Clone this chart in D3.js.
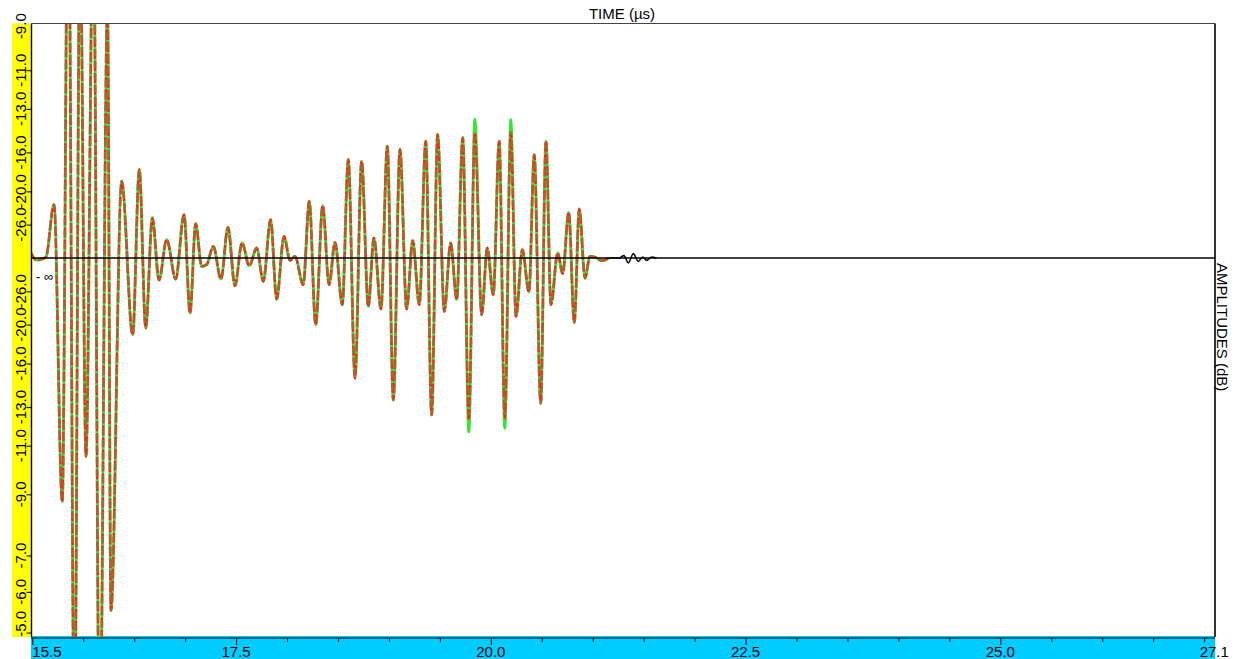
<!DOCTYPE html>
<html>
<head>
<meta charset="utf-8">
<script src="https://cdn.jsdelivr.net/npm/d3@7"></script>
<style>
  html, body { margin: 0; padding: 0; background: #fff; }
  svg { display: block; font-family: "Liberation Sans", Arial, sans-serif; }
</style>
</head>
<body>
<svg id="chart" width="1242" height="659"></svg>
<script>
// Echo waveform: extrema of the received signal, time in µs, linear amplitude
const timeUs = [
  15.48, 15.543, 15.585, 15.634, 15.713, 15.794, 15.853, 15.914, 15.968, 16.027,
  16.099, 16.161, 16.238, 16.272, 16.377, 16.485, 16.550, 16.613, 16.678, 16.743,
  16.819, 16.907, 16.989, 17.048, 17.103, 17.162, 17.211, 17.276, 17.352, 17.420,
  17.489, 17.558, 17.629, 17.702, 17.767, 17.839, 17.898, 17.970, 18.029, 18.078,
  18.159, 18.218, 18.281, 18.350, 18.412, 18.471, 18.542, 18.601, 18.667, 18.732,
  18.797, 18.853, 18.922, 18.984, 19.043, 19.108, 19.174, 19.233, 19.298, 19.361,
  19.419, 19.478, 19.543, 19.606, 19.665, 19.724, 19.784, 19.843, 19.910, 19.965,
  20.024, 20.082, 20.137, 20.196, 20.247, 20.309, 20.374, 20.426, 20.489, 20.541,
  20.590, 20.656, 20.705, 20.764, 20.819, 20.868, 20.924, 20.973, 21.022, 21.088,
  21.160
];

// Reference trace (red)
const ampRed = [
  0.0095, -0.0033, -0.0018, 0.0012, 0.0802, -0.366, 0.60, -0.74, 0.50, -0.298,
  0.52, -0.76, 0.38, -0.529, 0.1152, -0.1153, 0.1328, -0.1053, 0.0602, -0.0331,
  0.0275, -0.0316, 0.0651, -0.0827, 0.0516, -0.0126, -0.0101, 0.0174, -0.0316, 0.0460,
  -0.0417, 0.0226, -0.0116, 0.0150, -0.0352, 0.0576, -0.0617, 0.0325, -0.0036, 0.0024,
  -0.0402, 0.0851, -0.1003, 0.0786, -0.0402, 0.0235, -0.0702, 0.1478, -0.1805, 0.1453,
  -0.0728, 0.0301, -0.0767, 0.1678, -0.2131, 0.1629, -0.0767, 0.0260, -0.0702, 0.1753,
  -0.2356, 0.1854, -0.0803, 0.0226, -0.0627, 0.1805, -0.2432, 0.1884, -0.0853, 0.0150,
  -0.0552, 0.1753, -0.2402, 0.1884, -0.0878, 0.0125, -0.0511, 0.1553, -0.2181, 0.1753,
  -0.0702, 0.0075, -0.0236, 0.0686, -0.0968, 0.0737, -0.0301, 0.0024, 0.0012, -0.0040,
  0.0000
];

// Measured trace (green)
const ampGreen = [
  0.0095, -0.0033, -0.0018, 0.0012, 0.0802, -0.366, 0.60, -0.74, 0.50, -0.298,
  0.52, -0.76, 0.38, -0.529, 0.1152, -0.1153, 0.1328, -0.1053, 0.0602, -0.0331,
  0.0275, -0.0316, 0.0651, -0.0827, 0.0516, -0.0126, -0.0101, 0.0174, -0.0316, 0.0460,
  -0.0417, 0.0226, -0.0116, 0.0150, -0.0352, 0.0576, -0.0617, 0.0325, -0.0036, 0.0024,
  -0.0402, 0.0851, -0.1003, 0.0786, -0.0402, 0.0235, -0.0702, 0.1478, -0.1805, 0.1453,
  -0.0728, 0.0301, -0.0767, 0.1678, -0.2131, 0.1629, -0.0767, 0.0260, -0.0702, 0.1753,
  -0.2356, 0.1854, -0.0803, 0.0226, -0.0627, 0.1805, -0.2612, 0.2085, -0.0853, 0.0150,
  -0.0552, 0.1753, -0.2557, 0.2080, -0.0878, 0.0125, -0.0511, 0.1553, -0.2181, 0.1753,
  -0.0702, 0.0075, -0.0236, 0.0686, -0.0968, 0.0737, -0.0301, 0.0024, 0.0012, -0.0040,
  0.0000
];

// Raw signal (black) continues a little after the other traces end
const tailTimeUs = [21.256, 21.306, 21.349, 21.398, 21.447, 21.490, 21.529, 21.578, 21.627];
const tailAmp    = [0.0000, 0.0035, -0.0075, 0.0065, -0.0051, 0.0015, -0.0036, 0.0015, 0.0000];

// Amplitude axis: dB labels above and below the zero line
const dbTicksUpper = [-26, -20, -16, -13, -11, -9];
const dbTicksLower = [-26, -20, -16, -13, -11, -9, -7, -6, -5];

// Time axis
const timeMinorTicks = [16.0, 16.5, 17.0, 18.0, 18.5, 19.0, 19.5, 20.5, 21.0, 21.5, 22.0,
                        23.0, 23.5, 24.0, 24.5, 25.5, 26.0, 26.5, 27.0];
const timeMajorTicks = [15.5, 17.5, 20.0, 22.5, 25.0];
const timeLabels = [15.5, 17.5, 20.0, 22.5, 25.0, 27.1];

const plot = { left: 31.5, right: 1215, top: 23.5, bottom: 637 };

const x = d3.scaleLinear().domain([15.5, 27.1]).range([32.3, 1214.3]);
const y = d3.scaleLinear().domain([-0.569, 0.352]).range([plot.bottom, plot.top]);
const y0 = y(0);

const svg = d3.select("#chart");

// Axis bands
svg.append("rect")
  .attr("x", 12).attr("y", plot.top)
  .attr("width", plot.left - 12).attr("height", plot.bottom - plot.top)
  .attr("fill", "#ffff00");
svg.append("rect")
  .attr("x", 31).attr("y", 636)
  .attr("width", plot.right - 31).attr("height", 659 - 636)
  .attr("fill", "#00ccff");

// Clip for the waveform
svg.append("defs").append("clipPath").attr("id", "plotClip")
  .append("rect")
  .attr("x", plot.left).attr("y", plot.top)
  .attr("width", plot.right - plot.left).attr("height", plot.bottom - plot.top);

const line = d3.line()
  .x(d => x(d[0]))
  .y(d => y(d[1]))
  .curve(d3.curveMonotoneX);

const redPts = timeUs.map((t, i) => [t, ampRed[i]]);
const greenPts = timeUs.map((t, i) => [t, ampGreen[i]]);
const blackPts = redPts.concat(tailTimeUs.map((t, i) => [t, tailAmp[i]]));

const waves = svg.append("g").attr("clip-path", "url(#plotClip)");

waves.append("path").datum(blackPts)
  .attr("d", line).attr("fill", "none")
  .attr("stroke", "#111").attr("stroke-width", 1.6);

waves.append("path").datum(greenPts)
  .attr("d", line).attr("fill", "none")
  .attr("stroke", "#33e633").attr("stroke-width", 2.8)
  .attr("stroke-linejoin", "round");

waves.append("path").datum(redPts)
  .attr("d", line).attr("fill", "none")
  .attr("stroke", "#b0602c").attr("stroke-width", 2.8)
  .attr("stroke-dasharray", "7 5");

waves.append("path").datum(redPts)
  .attr("d", line).attr("fill", "none")
  .attr("stroke", "#ff2020").attr("stroke-width", 2.4)
  .attr("stroke-dasharray", "3 9").attr("stroke-dashoffset", 5);

// Zero line
svg.append("line")
  .attr("x1", plot.left).attr("x2", plot.right)
  .attr("y1", y0).attr("y2", y0)
  .attr("stroke", "#000").attr("stroke-width", 1.4);

// Frame: top and right
svg.append("line")
  .attr("x1", plot.left).attr("x2", plot.right)
  .attr("y1", plot.top).attr("y2", plot.top)
  .attr("stroke", "#444").attr("stroke-width", 1.2);
svg.append("line")
  .attr("x1", plot.right).attr("x2", plot.right)
  .attr("y1", plot.top).attr("y2", plot.bottom)
  .attr("stroke", "#000").attr("stroke-width", 1.6);

// Left amplitude axis (ticks only; labels rotated below)
const ampTickValues = dbTicksUpper.map(d => Math.pow(10, d / 20))
  .concat(dbTicksLower.map(d => -Math.pow(10, d / 20)))
  .filter(a => y(a) >= plot.top && y(a) <= plot.bottom);

const leftAxis = svg.append("g")
  .attr("transform", `translate(${plot.left},0)`)
  .call(d3.axisLeft(y).tickValues(ampTickValues).tickSize(5).tickFormat(""));
leftAxis.select(".domain").remove();
leftAxis.selectAll(".tick line").attr("stroke", "#000");
svg.append("line")
  .attr("x1", plot.left).attr("x2", plot.left)
  .attr("y1", plot.top).attr("y2", plot.bottom)
  .attr("stroke", "#000").attr("stroke-width", 1.4);

const fmtDb = d => d.toFixed(1);
const ampLabels = dbTicksUpper.map(d => ({ db: d, a: Math.pow(10, d / 20) }))
  .concat(dbTicksLower.map(d => ({ db: d, a: -Math.pow(10, d / 20) })));

svg.append("g").selectAll("text")
  .data(ampLabels)
  .join("text")
  .attr("transform", d => {
    const len = fmtDb(d.db).length * 6.6;
    const cy = Math.max(13 + len / 2, Math.min(plot.bottom - len / 2, y(d.a)));
    return `translate(25.5,${cy}) rotate(-90)`;
  })
  .attr("text-anchor", "middle")
  .attr("font-size", 15)
  .attr("fill", "#000")
  .text(d => fmtDb(d.db));

svg.append("text")
  .attr("x", 36).attr("y", y0 + 23)
  .attr("font-size", 13)
  .attr("fill", "#000")
  .text("- ∞");

// Bottom time axis
const axisY = 638;
svg.append("line")
  .attr("x1", 31).attr("x2", plot.right)
  .attr("y1", axisY).attr("y2", axisY)
  .attr("stroke", "#000").attr("stroke-width", 1.2);

const minorAxis = svg.append("g")
  .attr("transform", `translate(0,${axisY})`)
  .call(d3.axisBottom(x).tickValues(timeMinorTicks).tickSize(4).tickFormat(""));
minorAxis.select(".domain").remove();
minorAxis.selectAll(".tick line").attr("stroke", "#000");

const majorAxis = svg.append("g")
  .attr("transform", `translate(0,${axisY})`)
  .call(d3.axisBottom(x).tickValues(timeMajorTicks).tickSize(7).tickFormat(""));
majorAxis.select(".domain").remove();
majorAxis.selectAll(".tick line").attr("stroke", "#000");

svg.append("g").selectAll("text")
  .data(timeLabels)
  .join("text")
  .attr("x", d => x(d))
  .attr("y", 657)
  .attr("text-anchor", (d, i) => i === 0 ? "start" : "middle")
  .attr("font-size", 15)
  .attr("fill", "#000")
  .text(d => d.toFixed(1));

// Axis titles
svg.append("text")
  .attr("x", 622).attr("y", 19)
  .attr("text-anchor", "middle")
  .attr("font-size", 15)
  .attr("fill", "#000")
  .text("TIME (µs)");

svg.append("text")
  .attr("transform", `translate(1217,${y0 + 5}) rotate(90)`)
  .attr("text-anchor", "start")
  .attr("font-size", 15)
  .attr("fill", "#000")
  .text("AMPLITUDES (dB)");
</script>
</body>
</html>
